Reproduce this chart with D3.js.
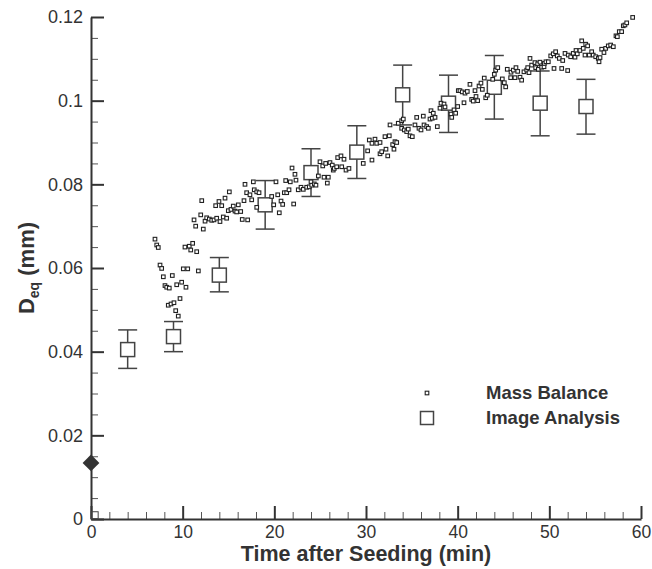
<!DOCTYPE html>
<html>
<head>
<meta charset="utf-8">
<script src="https://cdn.jsdelivr.net/npm/d3@7"></script>
<style>
  body { margin: 0; background: #fff; }
  text { font-family: "Liberation Sans", Arial, sans-serif; fill: #333; }
</style>
</head>
<body>
<div id="chart"></div>
<script>
// Mass balance estimate: [time (min), D_eq (mm)]
const massBalance = [
  [6.98,0.0669],[7.17,0.0655],[7.34,0.0649],[7.53,0.0607],[7.71,0.0599],[7.89,0.0579],[8.07,0.0558],[8.26,0.0554],
  [8.43,0.0511],[8.54,0.0552],[8.73,0.0514],[8.87,0.0582],[9.05,0.0517],[9.24,0.0498],[9.35,0.0560],[9.52,0.0485],
  [9.71,0.0527],[9.89,0.0566],[10.07,0.0598],[10.25,0.0650],[10.36,0.0554],[10.55,0.0598],[10.72,0.0652],[10.88,0.0643],
  [11.09,0.0659],[11.24,0.0715],[11.42,0.0700],[11.53,0.0639],[11.71,0.0593],[11.97,0.0727],[12.08,0.0761],[12.25,0.0693],
  [12.44,0.0712],[12.62,0.0720],[12.91,0.0717],[13.17,0.0714],[13.42,0.0715],[13.60,0.0749],[13.71,0.0719],[13.96,0.0759],
  [14.07,0.0711],[14.26,0.0749],[14.43,0.0722],[14.62,0.0767],[14.80,0.0719],[14.98,0.0737],[15.09,0.0782],[15.27,0.0740],
  [15.52,0.0748],[15.71,0.0736],[15.89,0.0734],[16.07,0.0751],[16.33,0.0735],[16.50,0.0716],[16.69,0.0761],[16.80,0.0800],
  [16.98,0.0780],[17.09,0.0715],[17.34,0.0775],[17.53,0.0763],[17.71,0.0806],[17.81,0.0787],[18.08,0.0782],[18.08,0.0745],
  [18.33,0.0780],[19.71,0.0771],[19.93,0.0751],[20.18,0.0806],[20.37,0.0775],[20.54,0.0732],[20.73,0.0760],[20.91,0.0752],
  [21.09,0.0780],[21.24,0.0809],[21.35,0.0780],[21.60,0.0787],[21.74,0.0806],[21.93,0.0839],[22.11,0.0753],[22.25,0.0824],
  [22.36,0.0810],[22.61,0.0787],[22.91,0.0793],[23.16,0.0788],[23.53,0.0793],[23.81,0.0794],[24.00,0.0806],[24.08,0.0798],
  [24.36,0.0801],[24.54,0.0798],[24.80,0.0820],[24.98,0.0854],[25.28,0.0844],[25.42,0.0817],[25.60,0.0850],[25.78,0.0803],
  [25.89,0.0817],[26.07,0.0852],[26.32,0.0846],[26.43,0.0834],[26.54,0.0838],[26.80,0.0842],[26.91,0.0864],[27.27,0.0868],
  [27.35,0.0842],[27.60,0.0860],[27.82,0.0834],[28.14,0.0838],[29.70,0.0850],[30.18,0.0880],[30.36,0.0906],[30.65,0.0898],
  [30.65,0.0858],[30.98,0.0908],[31.17,0.0898],[31.53,0.0900],[31.53,0.0873],[31.71,0.0878],[32.07,0.0914],[32.18,0.0884],
  [32.37,0.0868],[32.54,0.0916],[32.62,0.0942],[32.91,0.0895],[33.05,0.0884],[33.16,0.0902],[33.35,0.0900],[33.52,0.0946],
  [33.89,0.0952],[33.89,0.0934],[34.07,0.0956],[34.18,0.0930],[34.44,0.0926],[34.61,0.0932],[34.80,0.0916],[35.05,0.0914],
  [35.34,0.0942],[35.53,0.0960],[35.78,0.0934],[36.00,0.0930],[36.25,0.0963],[36.33,0.0942],[36.62,0.0938],[36.80,0.0934],
  [36.98,0.0956],[37.09,0.0976],[37.23,0.0958],[37.34,0.0970],[37.53,0.0960],[37.78,0.0938],[38.07,0.0982],[38.18,0.0994],
  [38.51,0.0992],[38.62,0.0985],[39.27,0.0968],[39.35,0.0960],[39.60,0.0978],[39.78,0.0970],[40.00,0.0986],[40.07,0.1024],
  [40.25,0.1024],[40.50,0.1021],[40.69,0.0995],[40.80,0.1018],[41.05,0.1022],[41.34,0.1039],[41.53,0.1003],[41.70,0.0999],
  [41.89,0.1024],[42.00,0.1010],[42.18,0.1000],[42.33,0.1035],[42.54,0.1042],[42.69,0.1027],[42.90,0.1054],[43.06,0.1007],
  [43.23,0.1013],[43.82,0.1051],[44.00,0.1063],[44.15,0.1073],[44.37,0.1079],[44.87,0.1052],[45.09,0.1043],[45.24,0.1033],
  [45.41,0.1075],[45.78,0.1055],[45.82,0.1068],[46.07,0.1073],[46.25,0.1055],[46.36,0.1079],[46.55,0.1070],[46.80,0.1056],
  [46.98,0.1049],[47.23,0.1069],[47.53,0.1073],[47.64,0.1079],[47.78,0.1067],[47.89,0.1101],[48.07,0.1085],[48.43,0.1091],
  [48.51,0.1079],[48.73,0.1088],[48.80,0.1075],[48.98,0.1092],[49.16,0.1080],[49.42,0.1081],[49.45,0.1089],[49.63,0.1093],
  [49.89,0.1093],[50.15,0.1107],[50.43,0.1112],[50.51,0.1077],[50.69,0.1117],[50.87,0.1107],[51.09,0.1101],[51.35,0.1077],
  [51.46,0.1096],[51.71,0.1113],[52.00,0.1072],[52.07,0.1109],[52.33,0.1105],[52.61,0.1113],[52.80,0.1104],[52.91,0.1120],
  [53.05,0.1112],[53.34,0.1120],[53.53,0.1143],[53.70,0.1125],[53.89,0.1109],[53.97,0.1135],[54.18,0.1131],[54.36,0.1109],
  [54.62,0.1117],[54.79,0.1109],[55.06,0.1105],[55.34,0.1101],[55.42,0.1093],[55.53,0.1103],[55.71,0.1123],[55.96,0.1115],
  [56.15,0.1125],[56.43,0.1131],[56.69,0.1133],[56.98,0.1129],[57.27,0.1155],[57.42,0.1153],[57.63,0.1165],[57.89,0.1165],
  [58.07,0.1179],[58.25,0.1181],[58.44,0.1186],[59.09,0.1199]
];

// Image analysis: time, mean, lower and upper error bar
const imageTime = [4, 9, 14, 19, 24, 29, 34, 39, 44, 49, 54];
const imageMean = [0.0405, 0.0436, 0.0583, 0.0751, 0.0828, 0.0877, 0.1014, 0.0994, 0.1032, 0.0994, 0.0986];
const imageLow  = [0.0360, 0.0400, 0.0543, 0.0693, 0.0771, 0.0814, 0.0942, 0.0924, 0.0956, 0.0916, 0.0920];
const imageHigh = [0.0452, 0.0472, 0.0625, 0.0809, 0.0885, 0.0940, 0.1085, 0.1061, 0.1108, 0.1071, 0.1051];

// seed value at t = 0 (diamond) and the small marker at the origin
const seedPoint = [0, 0.0134];
const originMarker = [0.4, 0.0009];

const xTicks = [0, 10, 20, 30, 40, 50, 60];
const yTicks = [0, 0.02, 0.04, 0.06, 0.08, 0.1, 0.12];
const legendLabels = ["Mass Balance", "Image Analysis"];

const width = 652, height = 569;
const margin = { left: 91, top: 17, right: 11, bottom: 50 };

const svg = d3.select("#chart").append("svg")
  .attr("width", width)
  .attr("height", height);

const x = d3.scaleLinear().domain([0, 60]).range([margin.left, width - margin.right]);
const y = d3.scaleLinear().domain([0, 0.12]).range([height - margin.bottom, margin.top]);

const ink = "#333";

// minor ticks first (lighter)
const xMinor = d3.axisBottom(x).tickValues(d3.range(0, 61, 2).filter(v => v % 10 !== 0))
  .tickSizeInner(-7).tickSizeOuter(0).tickFormat("");
svg.append("g").attr("transform", `translate(0,${y(0)})`).call(xMinor)
  .call(g => g.select(".domain").remove())
  .call(g => g.selectAll("line").attr("stroke", "#555").attr("stroke-width", 1));

const yMinor = d3.axisLeft(y).tickValues(d3.range(0, 0.1201, 0.005).filter((v, i) => i % 4 !== 0))
  .tickSizeInner(-7).tickSizeOuter(0).tickFormat("");
svg.append("g").attr("transform", `translate(${x(0)},0)`).call(yMinor)
  .call(g => g.select(".domain").remove())
  .call(g => g.selectAll("line").attr("stroke", "#555").attr("stroke-width", 1));

// major axes
const xAxis = d3.axisBottom(x).tickValues(xTicks).tickSizeInner(-13).tickSizeOuter(0).tickPadding(7)
  .tickFormat(d3.format("d"));
svg.append("g").attr("transform", `translate(0,${y(0)})`).call(xAxis)
  .call(g => g.select(".domain").attr("stroke", ink).attr("stroke-width", 2))
  .call(g => g.selectAll("line").attr("stroke", ink).attr("stroke-width", 2))
  .call(g => g.selectAll("text").attr("font-size", 17.5).attr("fill", ink)
    .style("font-family", "'Liberation Sans', Arial, sans-serif"));

const yAxis = d3.axisLeft(y).tickValues(yTicks).tickSizeInner(-13).tickSizeOuter(0).tickPadding(8)
  .tickFormat(d => d === 0 ? "0" : String(+d.toFixed(2)));
svg.append("g").attr("transform", `translate(${x(0)},0)`).call(yAxis)
  .call(g => g.select(".domain").attr("stroke", ink).attr("stroke-width", 2))
  .call(g => g.selectAll("line").attr("stroke", ink).attr("stroke-width", 2))
  .call(g => g.selectAll("text").attr("font-size", 18).attr("fill", ink)
    .style("font-family", "'Liberation Sans', Arial, sans-serif"));

// image analysis with error bars
const capW = 19, boxW = 14;
const imageData = imageTime.map((t, i) => ({ t, m: imageMean[i], lo: imageLow[i], hi: imageHigh[i] }));

const eb = svg.append("g").attr("stroke", "#444").attr("stroke-width", 1.5);
eb.selectAll(".stem").data(imageData).join("line")
  .attr("x1", d => x(d.t)).attr("x2", d => x(d.t))
  .attr("y1", d => y(d.lo)).attr("y2", d => y(d.hi));
eb.selectAll(".capHi").data(imageData).join("line")
  .attr("x1", d => x(d.t) - capW / 2).attr("x2", d => x(d.t) + capW / 2)
  .attr("y1", d => y(d.hi)).attr("y2", d => y(d.hi));
eb.selectAll(".capLo").data(imageData).join("line")
  .attr("x1", d => x(d.t) - capW / 2).attr("x2", d => x(d.t) + capW / 2)
  .attr("y1", d => y(d.lo)).attr("y2", d => y(d.lo));
eb.selectAll("rect").data(imageData).join("rect")
  .attr("x", d => x(d.t) - boxW / 2).attr("y", d => y(d.m) - boxW / 2)
  .attr("width", boxW).attr("height", boxW)
  .attr("fill", "#fff");

// mass balance points
svg.append("g").selectAll("rect").data(massBalance).join("rect")
  .attr("x", d => x(d[0]) - 1.8).attr("y", d => y(d[1]) - 1.8)
  .attr("width", 3.6).attr("height", 3.6)
  .attr("fill", "#fff").attr("stroke", "#222").attr("stroke-width", 1.1);

// origin marker and seed diamond
svg.append("rect")
  .attr("x", x(originMarker[0]) - 3.5).attr("y", y(originMarker[1]) - 3.5)
  .attr("width", 7).attr("height", 7)
  .attr("fill", "none").attr("stroke", "#444").attr("stroke-width", 1);

svg.append("path")
  .attr("d", d3.symbol(d3.symbolDiamond2, 180)())
  .attr("transform", `translate(${x(seedPoint[0])},${y(seedPoint[1])})`)
  .attr("fill", "#333");

// legend
const legend = svg.append("g");
legend.append("rect").attr("x", 425.2).attr("y", 391.2).attr("width", 3.6).attr("height", 3.6)
  .attr("fill", "#fff").attr("stroke", "#222").attr("stroke-width", 1.1);
legend.append("rect").attr("x", 420.5).attr("y", 411.5).attr("width", 13).attr("height", 13)
  .attr("fill", "#fff").attr("stroke", "#444").attr("stroke-width", 1.5);
legend.selectAll("text").data(legendLabels).join("text")
  .attr("x", 486).attr("y", (d, i) => 399 + i * 25)
  .attr("font-size", 18.5).attr("font-weight", "bold")
  .text(d => d);

// axis titles
svg.append("text")
  .attr("x", (x(0) + x(60)) / 2).attr("y", 561)
  .attr("text-anchor", "middle")
  .attr("font-size", 21.5).attr("font-weight", "bold")
  .text("Time after Seeding (min)");

const yt = svg.append("text")
  .attr("transform", `translate(34,${(y(0) + y(0.12)) / 2}) rotate(-90)`)
  .attr("text-anchor", "middle")
  .attr("font-size", 22).attr("font-weight", "bold");
yt.append("tspan").text("D");
yt.append("tspan").attr("font-size", 14).attr("dy", 5).text("eq");
yt.append("tspan").attr("dy", -5).text(" (mm)");
</script>
</body>
</html>
